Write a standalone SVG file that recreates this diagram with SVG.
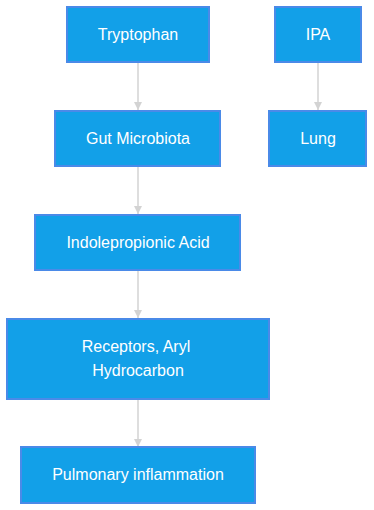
<svg xmlns="http://www.w3.org/2000/svg" width="374" height="510" viewBox="0 0 374 510">
<style>
.n{fill:#12a0e8;stroke:#4a8ae8;stroke-width:2}
.t{fill:#ffffff;font-family:"Liberation Sans",Arial,sans-serif;font-size:16px;text-anchor:middle;dominant-baseline:central}
.e{stroke:#d3d3d3;stroke-width:1.5;fill:none}
</style>
<defs>
<marker id="a" viewBox="0 0 10 10" refX="10" refY="5" markerWidth="8" markerHeight="8" markerUnits="userSpaceOnUse" orient="auto">
<path d="M0,0 L10,5 L0,10 z" fill="#d3d3d3"/>
</marker>
</defs>
<g id="edges">
<line class="e" x1="138" y1="62" x2="138" y2="110" marker-end="url(#a)"/>
<line class="e" x1="318" y1="62" x2="318" y2="110" marker-end="url(#a)"/>
<line class="e" x1="138" y1="166" x2="138" y2="214" marker-end="url(#a)"/>
<line class="e" x1="138" y1="270" x2="138" y2="318" marker-end="url(#a)"/>
<line class="e" x1="138" y1="399" x2="138" y2="447" marker-end="url(#a)"/>
</g>
<g id="tryptophan"><rect class="n" x="67" y="7" width="142" height="55"/><text class="t" x="138" y="34.5">Tryptophan</text></g>
<g id="ipa"><rect class="n" x="275" y="7" width="86" height="55"/><text class="t" x="318" y="34.5">IPA</text></g>
<g id="gut"><rect class="n" x="55" y="111" width="165" height="55"/><text class="t" x="138" y="138.5">Gut Microbiota</text></g>
<g id="lung"><rect class="n" x="269" y="111" width="97" height="55"/><text class="t" x="318" y="138.5">Lung</text></g>
<g id="indole"><rect class="n" x="35" y="215" width="205" height="55"/><text class="t" x="138" y="242.5">Indolepropionic Acid</text></g>
<g id="receptors"><rect class="n" x="7" y="319" width="262" height="80"/><text class="t" x="136" y="346.5">Receptors, Aryl</text><text class="t" x="138" y="370.5">Hydrocarbon</text></g>
<g id="pulmonary"><rect class="n" x="21" y="447" width="234" height="56"/><text class="t" x="138" y="474.5">Pulmonary inflammation</text></g>
</svg>
